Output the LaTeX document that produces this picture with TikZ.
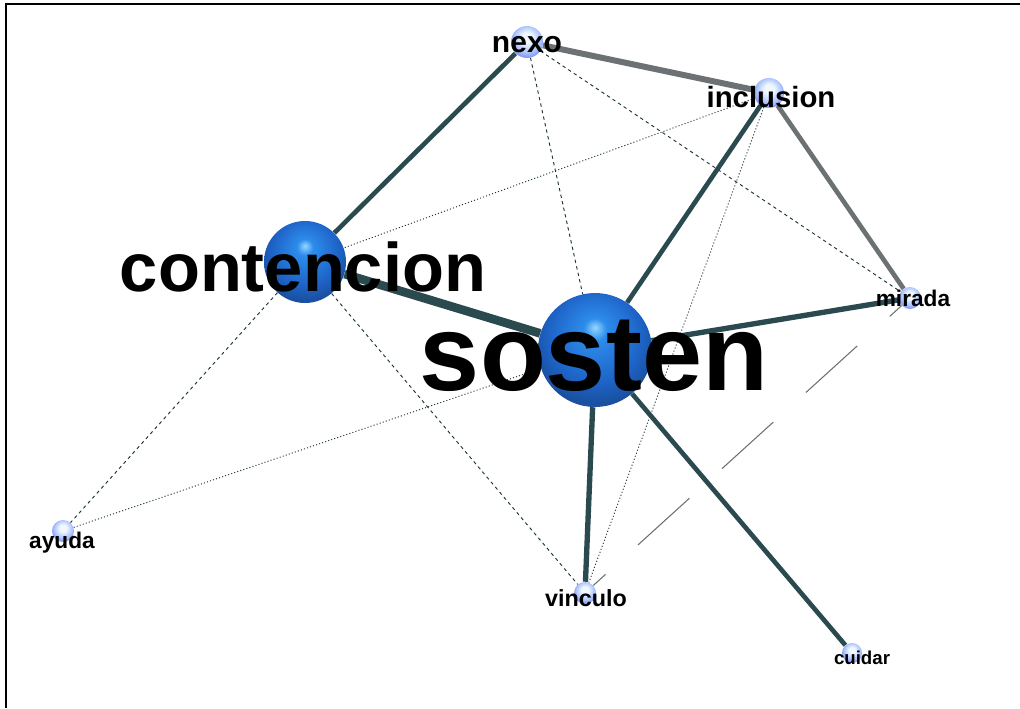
\documentclass[tikz,border=0pt]{standalone}
\usepackage{fontspec}
\setmainfont{Liberation Sans}
\usetikzlibrary{backgrounds}
\definecolor{tie}{RGB}{42,74,79}
\definecolor{tiegrey}{RGB}{108,113,115}
\definecolor{globeA}{RGB}{150,215,255}
\definecolor{globeB}{RGB}{45,140,235}
\definecolor{globeC}{RGB}{30,100,200}
\definecolor{globeD}{RGB}{25,80,160}
\definecolor{globeE}{RGB}{110,90,170}
\definecolor{beadA}{RGB}{240,248,255}
\definecolor{beadB}{RGB}{175,198,255}
\definecolor{beadC}{RGB}{135,155,240}
\definecolor{beadD}{RGB}{225,160,215}
\pgfdeclareradialshading{bigglobe}{\pgfpoint{0bp}{10bp}}{color(0bp)=(globeA); color(5bp)=(globeB); color(20bp)=(globeC); color(28bp)=(globeD); color(35bp)=(globeE); color(50bp)=(globeE)}
\pgfdeclareradialshading{smallglobe}{\pgfpoint{0bp}{8bp}}{color(0bp)=(beadA); color(8bp)=(beadA); color(20bp)=(beadB); color(27bp)=(beadC); color(33bp)=(beadD); color(50bp)=(beadD)}

\begin{document}
\begin{tikzpicture}[x=0.75pt, y=-0.75pt,
	sphere/.style = {circle, inner sep=0pt, minimum size=#1, shading=bigglobe},
	dot/.style = {circle, inner sep=0pt, minimum size=#1, shading=smallglobe},
	word/.style = {anchor=base, inner sep=0pt, font=\bfseries\fontsize{#1}{#1}\selectfont},
	strong/.style = {draw=tie, line width=#1},
	greytie/.style = {draw=tiegrey, line width=#1},
	weak/.style = {draw=tie!70!black, line width=0.7pt, dash pattern=on 0.8pt off 1.6pt},
	weakdash/.style = {draw=tie!70!black, line width=0.7pt, dash pattern=on 2.5pt off 2.5pt},
	longdash/.style = {draw=tiegrey, line width=0.8pt, dash pattern=on 52pt off 33pt, dash phase=40pt}]

	\useasboundingbox (0,0) rectangle (1020,708);
	\draw [line width=2.2pt] (1020,4) -- (6,4) -- (6,708);

	% spheres
	\node [sphere=85.5pt] (sosten) 		at (595,350) {};
	\node [sphere=61.5pt] (contencion) 	at (305,262) {};
	\node [dot=24pt] 	(nexo) 		at (527,42) {};
	\node [dot=22.5pt] 	(inclusion) 	at (769,93) {};
	\node [dot=16.5pt] 	(mirada) 		at (910,298) {};
	\node [dot=16.5pt] 	(ayuda) 		at (63,531) {};
	\node [dot=16.5pt] 	(vinculo) 	at (585,593) {};
	\node [dot=15pt] 	(cuidar) 		at (852,653) {};

	% links
	\begin{scope}[on background layer]
	\draw [weak] 		(inclusion) -- (contencion);
	\draw [weak] 		(inclusion) -- (vinculo);
	\draw [weak] 		(ayuda) -- (sosten);
	\draw [weakdash] 	(nexo) -- (sosten);
	\draw [weakdash] 	(nexo) -- (mirada);
	\draw [weakdash] 	(contencion) -- (ayuda);
	\draw [weakdash] 	(contencion) -- (vinculo);
	\draw [longdash] 	(mirada) -- (vinculo);

	\draw [greytie=4.5pt] 	(nexo) -- (inclusion);
	\draw [greytie=3.5pt] 	(inclusion) -- (mirada);

	\draw [strong=3.5pt] 	(contencion) -- (nexo);
	\draw [strong=6.5pt] 	(contencion) -- (sosten);
	\draw [strong=3.5pt] 	(sosten) -- (inclusion);
	\draw [strong=4pt] 	(sosten) -- (mirada);
	\draw [strong=4pt] 	(sosten) -- (vinculo);
	\draw [strong=3.5pt] 	(sosten) -- (cuidar);
	\end{scope}

	% labels
	\node [word=81] 	(sosten-txt) 		at (594,390) {sosten};
	\node [word=51.5] 	(contencion-txt) 	at (303,291) {contencion};
	\node [word=22.5] 	(nexo-txt) 		at (527,52) {nexo};
	\node [word=22] 	(inclusion-txt) 	at (771,107) {inclusion};
	\node [word=17] 	(mirada-txt) 		at (913,306) {mirada};
	\node [word=17] 	(ayuda-txt) 		at (62,548) {ayuda};
	\node [word=17.5] 	(vinculo-txt) 	at (586,606) {vinculo};
	\node [word=14] 	(cuidar-txt) 		at (862,664) {cuidar};

\end{tikzpicture}
\end{document}
